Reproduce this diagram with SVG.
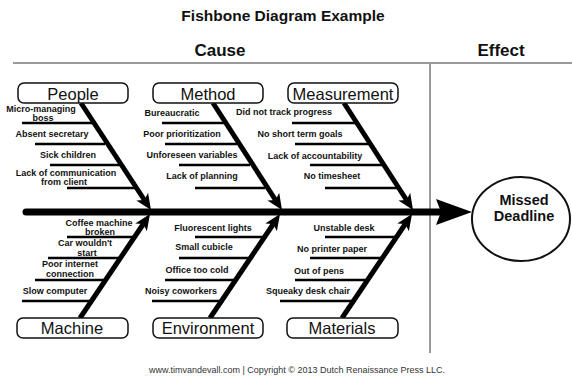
<svg xmlns="http://www.w3.org/2000/svg" width="572" height="386" viewBox="0 0 572 386">
<style>
text{font-family:"Liberation Sans",Arial,sans-serif;fill:#111}
.h{font-weight:bold;text-anchor:middle}
.c{font-size:9px;font-weight:bold;text-anchor:middle}
.box{fill:#fff;stroke:#111;stroke-width:1.5}
.bl{font-size:16.5px;text-anchor:middle}
.bone{stroke:#000;stroke-width:5;fill:none;marker-end:url(#ah)}
.cl{stroke:#000;stroke-width:2.5}
.g{stroke:#999;stroke-width:2}
</style>
<defs>
<marker id="ah" markerUnits="userSpaceOnUse" markerWidth="16" markerHeight="14" refX="4" refY="7" orient="auto" viewBox="0 0 16 14">
<path d="M0,0 L16,7 L0,14 L4,7 Z" fill="#000"/>
</marker>
</defs>
<rect width="572" height="386" fill="#fff"/>
<text class="h" x="283" y="21" font-size="15.5">Fishbone Diagram Example</text>
<text class="h" x="220" y="56" font-size="17">Cause</text>
<text class="h" x="501" y="56" font-size="17">Effect</text>
<line class="g" x1="13" y1="63" x2="572" y2="63"/>
<line class="g" x1="430" y1="63" x2="430" y2="353"/>

<g id="connectors">
<line x1="26" y1="212" x2="440" y2="212" stroke="#000" stroke-width="7" stroke-linecap="round"/>
<polygon points="436,199 472,212 436,225 441,212" fill="#000"/>
<line class="bone" x1="81" y1="103" x2="144.4" y2="200"/>
<line class="bone" x1="213" y1="103" x2="275.5" y2="200"/>
<line class="bone" x1="344" y1="103" x2="406.5" y2="200"/>
<line class="bone" x1="80" y1="318" x2="143.3" y2="224"/>
<line class="bone" x1="210" y1="318" x2="273.3" y2="224"/>
<line class="bone" x1="342" y1="318" x2="405.3" y2="224"/>
</g>

<g id="people">
<rect class="box" x="18" y="83" width="110" height="20" rx="6"/>
<text class="bl" x="73" y="100">People</text>
<line class="cl" x1="22" y1="123" x2="92" y2="123"/>
<line class="cl" x1="35" y1="144" x2="105" y2="144"/>
<line class="cl" x1="50" y1="165" x2="120" y2="165"/>
<line class="cl" x1="67" y1="188" x2="135" y2="188"/>
<text class="c" x="41" y="112">Micro-managing</text>
<text class="c" x="43" y="121">boss</text>
<text class="c" x="52" y="137">Absent secretary</text>
<text class="c" x="68" y="158">Sick children</text>
<text class="c" x="66" y="176">Lack of communication</text>
<text class="c" x="64" y="185">from client</text>
</g>

<g id="method">
<rect class="box" x="153" y="83" width="110" height="20" rx="6"/>
<text class="bl" x="208" y="100">Method</text>
<line class="cl" x1="162" y1="123" x2="225" y2="123"/>
<line class="cl" x1="165" y1="144" x2="237" y2="144"/>
<line class="cl" x1="179" y1="165" x2="250" y2="165"/>
<line class="cl" x1="195" y1="188" x2="265" y2="188"/>
<text class="c" x="172" y="116">Bureaucratic</text>
<text class="c" x="182" y="137">Poor prioritization</text>
<text class="c" x="192" y="158">Unforeseen variables</text>
<text class="c" x="202" y="179">Lack of planning</text>
</g>

<g id="measurement">
<rect class="box" x="288" y="83" width="110" height="20" rx="6"/>
<text class="bl" x="343" y="100">Measurement</text>
<line class="cl" x1="292" y1="123" x2="358" y2="123"/>
<line class="cl" x1="295" y1="144" x2="369" y2="144"/>
<line class="cl" x1="310" y1="165" x2="382" y2="165"/>
<line class="cl" x1="325" y1="188" x2="397" y2="188"/>
<text class="c" x="284" y="115">Did not track progress</text>
<text class="c" x="300" y="137">No short term goals</text>
<text class="c" x="315" y="159">Lack of accountability</text>
<text class="c" x="332" y="179">No timesheet</text>
</g>

<g id="machine">
<rect class="box" x="17" y="318" width="111" height="20" rx="6"/>
<text class="bl" x="72" y="334">Machine</text>
<line class="cl" x1="67" y1="237" x2="136" y2="237"/>
<line class="cl" x1="48" y1="258" x2="121" y2="258"/>
<line class="cl" x1="35" y1="280" x2="106" y2="280"/>
<line class="cl" x1="22" y1="301" x2="92" y2="301"/>
<text class="c" x="99" y="226">Coffee machine</text>
<text class="c" x="100" y="235">broken</text>
<text class="c" x="85" y="246">Car wouldn't</text>
<text class="c" x="87" y="256">start</text>
<text class="c" x="70" y="267">Poor internet</text>
<text class="c" x="70" y="277">connection</text>
<text class="c" x="55" y="294">Slow computer</text>
</g>

<g id="environment">
<rect class="box" x="153" y="318" width="110" height="20" rx="6"/>
<text class="bl" x="208" y="334">Environment</text>
<line class="cl" x1="195" y1="237" x2="267" y2="237"/>
<line class="cl" x1="179" y1="258" x2="252" y2="258"/>
<line class="cl" x1="165" y1="280" x2="236" y2="280"/>
<line class="cl" x1="152" y1="301" x2="222" y2="301"/>
<text class="c" x="213" y="231">Fluorescent lights</text>
<text class="c" x="204" y="250">Small cubicle</text>
<text class="c" x="197" y="273">Office too cold</text>
<text class="c" x="181" y="294">Noisy coworkers</text>
</g>

<g id="materials">
<rect class="box" x="287" y="318" width="111" height="20" rx="6"/>
<text class="bl" x="342" y="334">Materials</text>
<line class="cl" x1="325" y1="237" x2="398" y2="237"/>
<line class="cl" x1="310" y1="258" x2="383" y2="258"/>
<line class="cl" x1="295" y1="280" x2="368" y2="280"/>
<line class="cl" x1="280" y1="301" x2="353" y2="301"/>
<text class="c" x="344" y="231">Unstable desk</text>
<text class="c" x="332" y="252">No printer paper</text>
<text class="c" x="319" y="274">Out of pens</text>
<text class="c" x="308" y="294">Squeaky desk chair</text>
</g>

<g id="effect">
<ellipse cx="521" cy="219" rx="49" ry="42" fill="#fff" stroke="#111" stroke-width="2"/>
<text class="h" x="524" y="205" font-size="14.5">Missed</text>
<text class="h" x="524" y="221" font-size="14.5">Deadline</text>
</g>

<text x="297" y="373" font-size="9" text-anchor="middle" style="fill:#333">www.timvandevall.com | Copyright © 2013 Dutch Renaissance Press LLC.</text>
</svg>
